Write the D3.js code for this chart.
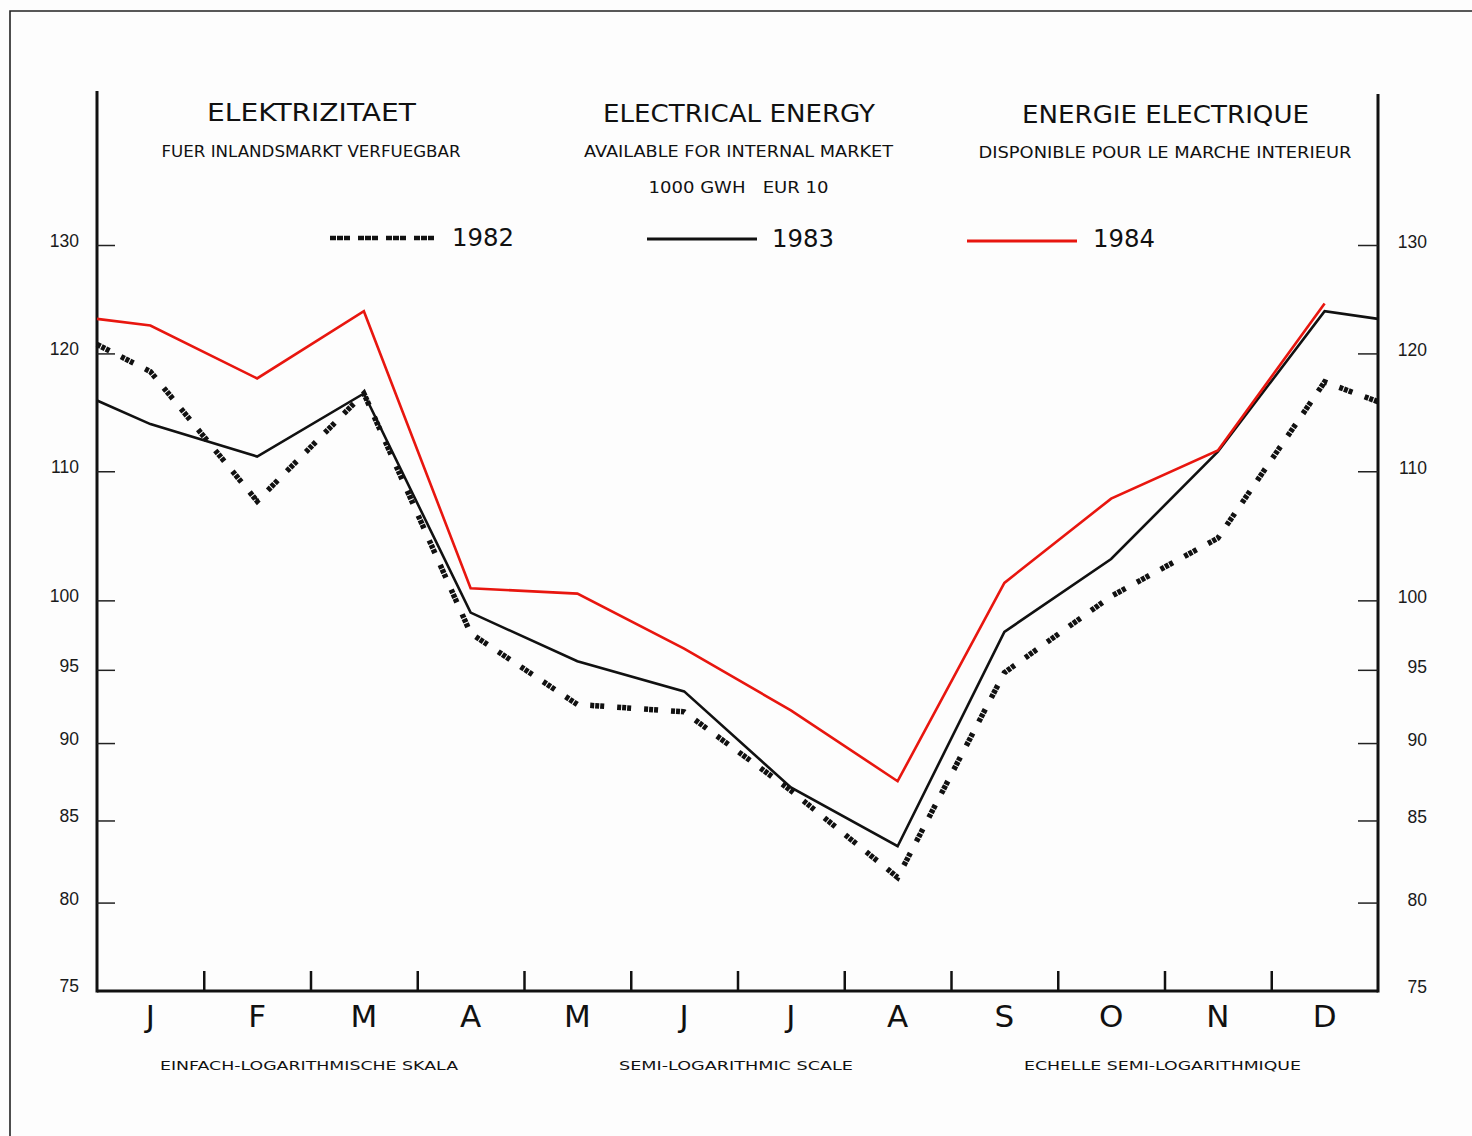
<!DOCTYPE html>
<html><head><meta charset="utf-8">
<script src="https://cdn.jsdelivr.net/npm/d3@7"></script>
<style>body{margin:0;background:#fff}svg{display:block}text{white-space:pre}</style>
</head><body><svg id="c" width="1472" height="1136"></svg>
<script>
const months = ["J","F","M","A","M","J","J","A","S","O","N","D"];
const yTicks = [75,80,85,90,95,100,110,120,130];
const years = ["1982","1983","1984"];
const series1982 = [118.4,107.6,116.5,97.6,92.6,92.1,86.9,81.5,94.8,100.3,104.7,117.5];
const series1983 = [113.9,111.2,116.5,99.1,95.6,93.5,87.1,83.4,97.7,103.1,111.6,123.8];
const series1984 = [122.5,117.8,123.8,100.9,100.5,96.5,92.2,87.5,101.3,107.8,111.7,124.5];
// values where each line meets the left / right axis
const edges1982 = [120.8,115.8];
const edges1983 = [115.9,123.1];
const edges1984 = [123.1,null];

const svg = d3.select("#c");
const F = "'DejaVu Sans', 'Liberation Sans', sans-serif";
svg.append("rect").attr("width",1472).attr("height",1136).attr("fill","#fdfdfd");

// outer frame
svg.append("path").attr("d","M10,1136 V11 H1472").attr("fill","none").attr("stroke","#222").attr("stroke-width",1.6);

const x = d3.scaleLinear().domain([0,12]).range([97,1378]);
const y = d3.scaleLog().domain([75,130]).range([990,245]);

// axes lines
const g = svg.append("g");
g.append("path").attr("d",`M${x(0)},${y(75)+1} H${x(12)}`).attr("stroke","#111").attr("stroke-width",3).attr("fill","none");
g.append("line").attr("x1",x(0)).attr("x2",x(0)).attr("y1",91).attr("y2",y(75)+2.5).attr("stroke","#111").attr("stroke-width",3);
g.append("line").attr("x1",x(12)).attr("x2",x(12)).attr("y1",94).attr("y2",y(75)+2.5).attr("stroke","#111").attr("stroke-width",3);

// y ticks via d3 axes
const axL = d3.axisRight(y).tickValues(yTicks.filter(v=>v>75)).tickSize(18).tickFormat("");
const axR = d3.axisLeft(y).tickValues(yTicks.filter(v=>v>75)).tickSize(20).tickFormat("");
const gl = svg.append("g").attr("transform",`translate(${x(0)},0)`).call(axL);
const gr = svg.append("g").attr("transform",`translate(${x(12)},0)`).call(axR);
[gl,gr].forEach(a=>{a.select(".domain").remove();a.selectAll("line").attr("stroke","#222").attr("stroke-width",1.5);});

// y labels
const LF = "'Liberation Sans', Arial, sans-serif";
svg.append("g").selectAll("text").data(yTicks).join("text")
  .attr("x",79).attr("y",d=>y(d)-4).attr("text-anchor","end").attr("dominant-baseline","central")
  .attr("font-family",LF).attr("font-size",17.5).attr("fill","#1a1a1a").text(d=>d);
svg.append("g").selectAll("text").data(yTicks).join("text")
  .attr("x",1427).attr("y",d=>y(d)-3).attr("text-anchor","end").attr("dominant-baseline","central")
  .attr("font-family",LF).attr("font-size",17.5).attr("fill","#1a1a1a").text(d=>d);

// x ticks
const axB = d3.axisTop(x).tickValues(d3.range(1,12)).tickSize(19).tickFormat("");
const gb = svg.append("g").attr("transform",`translate(0,${y(75)})`).call(axB);
gb.select(".domain").remove();
gb.selectAll("line").attr("stroke","#111").attr("stroke-width",2.5);

// month labels
svg.append("g").selectAll("text").data(months).join("text")
  .attr("x",(d,i)=>x(i+0.5)).attr("y",1027).attr("text-anchor","middle")
  .attr("font-family",F).attr("font-size",31).attr("fill","#111").text(d=>d);

// titles
function txt(s,cx,by,size,w){
  svg.append("text").attr("x",cx-w/2).attr("y",by).attr("font-family",F).attr("font-size",size)
    .attr("fill","#111").attr("textLength",w).attr("lengthAdjust","spacingAndGlyphs")
    .attr("xml:space","preserve").text(s);
}
txt("ELEKTRIZITAET",311.5,121,25,209);
txt("FUER INLANDSMARKT VERFUEGBAR",311,157,16,299);
txt("ELECTRICAL ENERGY",739,122,25,272);
txt("AVAILABLE FOR INTERNAL MARKET",738.5,157,16,309);
txt("1000 GWH   EUR 10",738.5,193,16,180);
txt("ENERGIE ELECTRIQUE",1165.5,123,25,287);
txt("DISPONIBLE POUR LE MARCHE INTERIEUR",1165,158,16,373);
txt("EINFACH-LOGARITHMISCHE SKALA",309,1070,13,298);
txt("SEMI-LOGARITHMIC SCALE",736,1070,13,234);
txt("ECHELLE SEMI-LOGARITHMIQUE",1162.5,1070,13,277);

// lines
const styles = {
  "1982":{stroke:"#111",width:5.5,dash:"4,1,4,1,4,13"},
  "1983":{stroke:"#111",width:2.6,dash:null},
  "1984":{stroke:"#e8160f",width:2.6,dash:null}
};
const allSeries = [[series1982,edges1982],[series1983,edges1983],[series1984,edges1984]];
const line = d3.line().x(d=>x(d.x)).y(d=>y(d.v));
allSeries.forEach(([s,e],k)=>{
  const pts = [{x:0,v:e[0]}].concat(s.map((v,i)=>({x:i+0.5,v})));
  if(e[1]!=null) pts.push({x:12,v:e[1]});
  const st = styles[years[k]];
  svg.append("path").datum(pts).attr("d",line).attr("fill","none")
    .attr("stroke",st.stroke).attr("stroke-width",st.width)
    .attr("stroke-dasharray",st.dash).attr("stroke-linejoin","miter");
});

// legend
const legend = [
  {x0:330,x1:434,ly:238,tx:452,ty:246,dash:"6,1,6,1,6,8",w:4.5},
  {x0:647,x1:757,ly:239,tx:772,ty:247,dash:null,w:3},
  {x0:967,x1:1077,ly:241,tx:1093,ty:247,dash:null,w:3}
];
legend.forEach((l,k)=>{
  const st = styles[years[k]];
  svg.append("line").attr("x1",l.x0).attr("x2",l.x1).attr("y1",l.ly).attr("y2",l.ly)
    .attr("stroke",st.stroke).attr("stroke-width",l.w).attr("stroke-dasharray",l.dash);
  svg.append("text").attr("x",l.tx).attr("y",l.ty).attr("font-family",F).attr("font-size",25)
    .attr("fill","#111").attr("textLength",62).attr("lengthAdjust","spacingAndGlyphs").text(years[k]);
});
</script></body></html>
